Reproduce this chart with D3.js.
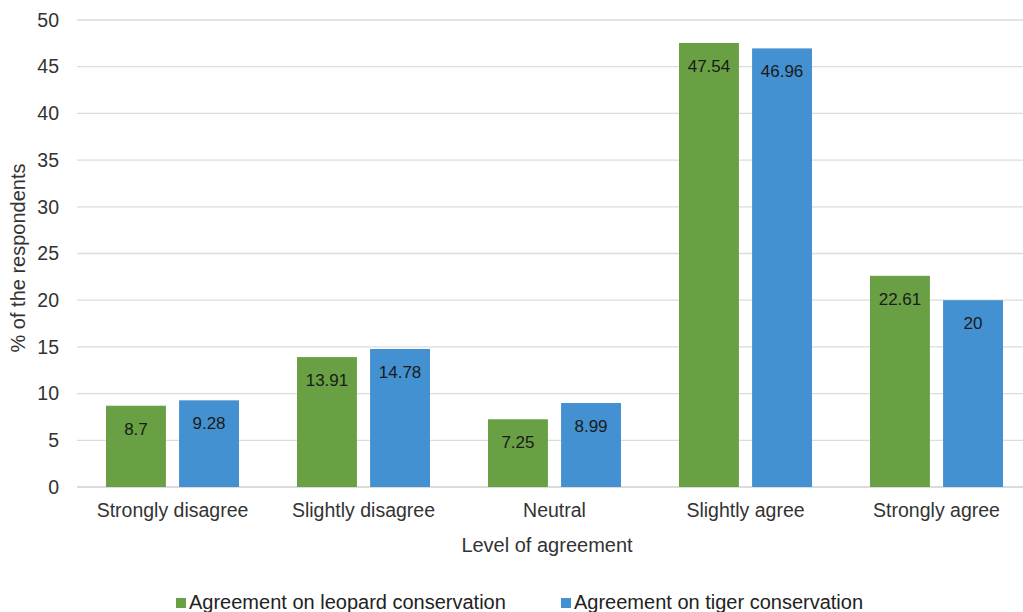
<!DOCTYPE html>
<html><head><meta charset="utf-8">
<script src="https://cdn.jsdelivr.net/npm/d3@7"></script>
<style>body{margin:0;background:#fff}svg{display:block;font-family:"Liberation Sans",Arial,sans-serif}</style>
</head><body>
<svg id="c" width="1023" height="612"></svg>
<script>
const categories = ["Strongly disagree","Slightly disagree","Neutral","Slightly agree","Strongly agree"];
const seriesNames = ["Agreement on leopard conservation","Agreement on tiger conservation"];
const leopard = [8.7, 13.91, 7.25, 47.54, 22.61];
const tiger = [9.28, 14.78, 8.99, 46.96, 20];
const yTicks = [0,5,10,15,20,25,30,35,40,45,50];
const colors = ["#69a043","#4391d1"];

const svg = d3.select("#c");
const x0 = d3.scaleBand().domain(categories).range([77, 1032]).paddingInner(0).paddingOuter(0);
const y = d3.scaleLinear().domain([0,50]).range([487, 20]);
const x1 = d3.scaleBand().domain([0,1]).range([0, 133]).paddingInner(0.18);

// grid
svg.append("g").selectAll("line").data(yTicks).join("line")
  .attr("x1", 77).attr("x2", 1023)
  .attr("y1", d=>y(d)).attr("y2", d=>y(d))
  .attr("stroke", d=> d===0 ? "#cfcfcf" : "#dcdcdc").attr("stroke-width", 1.3);

// y axis labels
const yAxis = d3.axisLeft(y).tickValues(yTicks).tickSize(0).tickPadding(0);
const ga = svg.append("g").attr("transform","translate(59,0)").call(yAxis);
ga.select(".domain").remove();
ga.selectAll("text").attr("font-size", 19.5).attr("fill","#333").attr("font-family","Liberation Sans, Arial, sans-serif");

// x axis labels
const xAxis = d3.axisBottom(x0).tickSize(0).tickPadding(0);
const gx = svg.append("g").attr("transform","translate(0,503)").call(xAxis);
gx.select(".domain").remove();
gx.selectAll("text").attr("font-size", 19.5).attr("fill","#333").attr("font-family","Liberation Sans, Arial, sans-serif");

// bars
const data = categories.map((c,i)=>({c, vals:[leopard[i], tiger[i]]}));
const groups = svg.append("g").selectAll("g").data(data).join("g")
  .attr("transform", d=>`translate(${x0(d.c) + (x0.bandwidth()-133)/2},0)`);
groups.selectAll("rect").data(d=>d.vals.map((v,k)=>({v,k}))).join("rect")
  .attr("x", d=>x1(d.k)).attr("width", x1.bandwidth())
  .attr("y", d=>y(d.v)).attr("height", d=>y(0)-y(d.v))
  .attr("fill", d=>colors[d.k]);
groups.selectAll("text").data(d=>d.vals.map((v,k)=>({v,k}))).join("text")
  .attr("x", d=>x1(d.k)+x1.bandwidth()/2).attr("y", d=>y(d.v)+29)
  .attr("text-anchor","middle").attr("font-size",17).attr("fill","#1a1a1a")
  .text(d=>d.v);

// axis titles
svg.append("text").attr("x", 547).attr("y", 552).attr("text-anchor","middle")
  .attr("font-size",20).attr("fill","#333").text("Level of agreement");
svg.append("text").attr("transform","translate(25,258) rotate(-90)").attr("text-anchor","middle")
  .attr("font-size",20).attr("fill","#333").text("% of the respondents");

// legend
const legX = [176, 561];
const lg = svg.append("g").selectAll("g").data(seriesNames).join("g")
  .attr("transform",(d,i)=>`translate(${legX[i]},598)`);
lg.append("rect").attr("width",10).attr("height",10).attr("y",0).attr("fill",(d,i)=>colors[i]);
lg.append("text").attr("x",13).attr("y",11).attr("font-size",20).attr("fill","#222").text(d=>d);
</script>
</body></html>
